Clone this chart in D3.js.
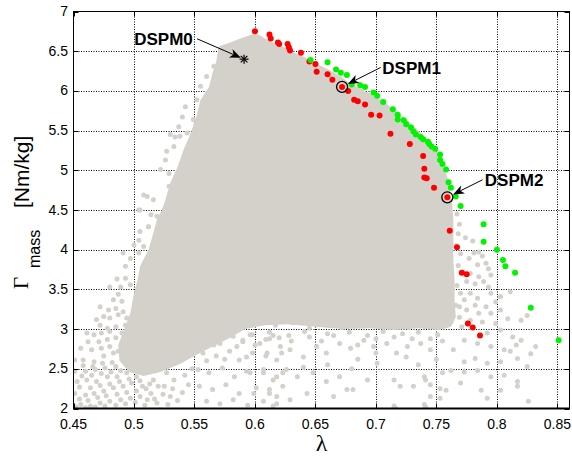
<!DOCTYPE html>
<html>
<head>
<meta charset="utf-8">
<script src="https://cdn.jsdelivr.net/npm/d3@7"></script>
<style>
  body { margin: 0; background: #fff; }
  svg { display: block; }
</style>
</head>
<body>
<svg id="chart" width="572" height="459"></svg>
<script>
// ---- axis ticks ----
const xTicks = [0.45, 0.5, 0.55, 0.6, 0.65, 0.7, 0.75, 0.8, 0.85];
const xTickLabels = ["0.45", "0.5", "0.55", "0.6", "0.65", "0.7", "0.75", "0.8", "0.85"];
const yTicks = [2, 2.5, 3, 3.5, 4, 4.5, 5, 5.5, 6, 6.5, 7];
const yTickLabels = ["2", "2.5", "3", "3.5", "4", "4.5", "5", "5.5", "6", "6.5", "7"];

// ---- dense part of the design cloud (outline, lambda / Gamma) ----
const cloudCore = [
  [0.570, 6.56], [0.576, 6.59], [0.581, 6.62], [0.588, 6.66], [0.594, 6.69], [0.599, 6.72],
  [0.603, 6.71], [0.608, 6.66], [0.615, 6.61], [0.623, 6.56], [0.631, 6.49], [0.639, 6.44],
  [0.647, 6.38], [0.654, 6.32], [0.663, 6.25], [0.671, 6.18], [0.679, 6.09], [0.687, 6.03],
  [0.696, 5.96], [0.704, 5.89], [0.712, 5.80], [0.720, 5.70], [0.729, 5.59], [0.737, 5.47],
  [0.745, 5.33], [0.751, 5.21], [0.755, 5.07], [0.759, 4.92], [0.761, 4.75], [0.763, 4.57],
  [0.764, 4.38], [0.764, 4.13], [0.764, 3.87], [0.765, 3.62], [0.765, 3.37], [0.766, 3.15],
  [0.762, 3.03], [0.752, 2.99], [0.735, 3.01], [0.715, 2.99], [0.695, 3.01], [0.672, 3.00],
  [0.650, 3.03], [0.628, 3.06], [0.608, 3.05], [0.592, 3.00], [0.578, 2.88], [0.565, 2.78],
  [0.552, 2.68], [0.538, 2.56], [0.522, 2.46], [0.508, 2.41], [0.496, 2.46], [0.488, 2.60],
  [0.487, 2.80], [0.492, 3.00], [0.497, 3.20], [0.500, 3.45], [0.503, 3.62], [0.505, 3.79],
  [0.512, 4.00], [0.516, 4.21], [0.519, 4.38], [0.523, 4.50], [0.526, 4.63], [0.530, 4.84],
  [0.536, 5.04], [0.541, 5.26], [0.547, 5.47], [0.552, 5.70], [0.555, 5.89], [0.562, 6.05],
  [0.565, 6.23], [0.568, 6.37]
];

// ---- loose designs around the dense part ----
const upperLeftDesigns = [
  [0.5425, 5.80], [0.540, 5.67], [0.549, 5.64], [0.537, 5.55], [0.530, 5.45], [0.538, 5.43],
  [0.533, 5.30], [0.527, 5.24], [0.526, 5.13], [0.522, 5.01], [0.529, 4.96], [0.529, 4.80],
  [0.508, 4.69], [0.511, 4.67], [0.516, 4.63], [0.504, 4.50], [0.519, 4.42], [0.512, 4.29],
  [0.555, 6.06], [0.552, 5.89], [0.560, 6.18], [0.566, 6.31], [0.544, 5.47], [0.566, 6.14],
  [0.558, 5.78], [0.534, 5.42]
];
const lowerLeftDesigns = [
  [0.505, 4.50], [0.514, 4.44], [0.512, 4.29], [0.505, 4.23], [0.504, 4.12], [0.500, 4.06],
  [0.508, 4.04], [0.491, 3.96], [0.504, 3.96], [0.497, 3.89], [0.493, 3.79], [0.493, 3.64],
  [0.486, 3.63], [0.497, 3.56], [0.489, 3.53], [0.480, 3.53], [0.487, 3.44], [0.483, 3.37],
  [0.490, 3.35], [0.479, 3.24], [0.472, 3.28], [0.485, 3.26], [0.491, 3.22], [0.475, 3.16],
  [0.469, 3.12], [0.480, 3.14], [0.487, 3.18], [0.494, 3.14], [0.472, 3.05], [0.478, 3.01],
  [0.485, 3.03], [0.493, 3.05], [0.461, 2.95], [0.467, 2.93], [0.473, 2.95], [0.480, 2.97],
  [0.490, 2.95], [0.497, 2.91], [0.462, 2.84], [0.471, 2.84], [0.478, 2.87], [0.485, 2.89],
  [0.493, 2.82], [0.456, 2.76], [0.465, 2.74], [0.473, 2.76], [0.480, 2.78], [0.487, 2.72],
  [0.496, 2.74], [0.451, 2.61], [0.458, 2.61], [0.467, 2.59], [0.475, 2.66], [0.483, 2.70],
  [0.491, 2.64], [0.498, 2.66], [0.451, 2.47], [0.460, 2.47], [0.468, 2.49], [0.476, 2.51],
  [0.485, 2.53], [0.493, 2.57], [0.501, 2.55], [0.453, 2.34], [0.461, 2.36], [0.469, 2.34],
  [0.478, 2.40], [0.486, 2.40], [0.494, 2.45], [0.502, 2.40], [0.451, 2.19], [0.460, 2.17],
  [0.467, 2.19], [0.475, 2.22], [0.483, 2.26], [0.491, 2.28], [0.498, 2.32], [0.507, 2.28],
  [0.456, 2.05], [0.464, 2.03], [0.472, 2.07], [0.480, 2.09], [0.489, 2.11], [0.497, 2.13],
  [0.505, 2.15], [0.514, 2.19], [0.511, 2.11], [0.519, 2.07], [0.508, 2.45], [0.516, 2.36],
  [0.522, 2.53], [0.512, 2.66], [0.505, 2.74], [0.525, 2.28], [0.530, 2.15], [0.527, 2.45],
  [0.536, 2.61], [0.533, 2.36], [0.545, 2.78], [0.548, 2.86], [0.562, 2.92], [0.576, 3.02],
  [0.566, 2.80], [0.552, 2.72], [0.538, 2.70], [0.583, 3.12],
  [0.455, 2.12], [0.462, 2.10], [0.470, 2.14], [0.477, 2.16], [0.486, 2.18], [0.494, 2.20],
  [0.502, 2.22], [0.510, 2.25], [0.455, 2.27], [0.464, 2.26], [0.472, 2.29], [0.480, 2.31],
  [0.488, 2.34], [0.496, 2.37], [0.505, 2.35], [0.513, 2.31], [0.520, 2.28], [0.457, 2.41],
  [0.465, 2.42], [0.473, 2.44], [0.481, 2.46], [0.489, 2.48], [0.458, 2.54], [0.466, 2.53],
  [0.474, 2.57], [0.482, 2.58], [0.452, 2.02], [0.460, 2.01], [0.468, 2.02], [0.476, 2.03],
  [0.485, 2.04], [0.493, 2.06], [0.501, 2.08], [0.509, 2.04], [0.517, 2.12], [0.524, 2.18],
  [0.532, 2.25], [0.528, 2.05], [0.536, 2.10], [0.540, 2.20], [0.545, 2.30], [0.542, 2.42],
  [0.548, 2.50]
];
const lowerMiddleDesigns = [
  [0.554, 2.93], [0.561, 2.87], [0.571, 2.82], [0.582, 2.91], [0.590, 2.84], [0.598, 2.93],
  [0.609, 2.87], [0.620, 2.89], [0.557, 2.70], [0.568, 2.66], [0.579, 2.72], [0.587, 2.61],
  [0.598, 2.70], [0.609, 2.66], [0.622, 2.70], [0.553, 2.49], [0.562, 2.45], [0.573, 2.51],
  [0.583, 2.40], [0.593, 2.47], [0.607, 2.45], [0.618, 2.40], [0.626, 2.49], [0.554, 2.28],
  [0.565, 2.24], [0.576, 2.30], [0.587, 2.19], [0.601, 2.26], [0.612, 2.19], [0.623, 2.28],
  [0.560, 2.09], [0.571, 2.06], [0.582, 2.11], [0.594, 2.04], [0.607, 2.09], [0.618, 2.06],
  [0.590, 2.86], [0.604, 2.82], [0.612, 2.88], [0.621, 2.78], [0.593, 2.65], [0.610, 2.70],
  [0.618, 2.61], [0.629, 2.74], [0.640, 2.65], [0.651, 2.78], [0.659, 2.70], [0.670, 2.82],
  [0.679, 2.76], [0.690, 2.86], [0.698, 2.78], [0.709, 2.82], [0.717, 2.70], [0.726, 2.78],
  [0.737, 2.82], [0.745, 2.74], [0.596, 2.45], [0.607, 2.49], [0.615, 2.36], [0.623, 2.45],
  [0.635, 2.40], [0.648, 2.45], [0.659, 2.34], [0.670, 2.40], [0.681, 2.24], [0.693, 2.36],
  [0.701, 2.57], [0.715, 2.36], [0.720, 2.28], [0.731, 2.28], [0.740, 2.40], [0.599, 2.19],
  [0.612, 2.24], [0.618, 2.15], [0.629, 2.11], [0.643, 2.19], [0.665, 2.15], [0.676, 2.24],
  [0.715, 2.03], [0.740, 2.05], [0.615, 2.03], [0.716, 2.01],
  [0.560, 2.60], [0.575, 2.62], [0.585, 2.78], [0.600, 2.80], [0.615, 2.92], [0.630, 2.85],
  [0.645, 2.90], [0.655, 2.85], [0.665, 2.92], [0.685, 2.80], [0.700, 2.88], [0.715, 2.90],
  [0.730, 2.88], [0.745, 2.88], [0.755, 2.85], [0.700, 2.70], [0.725, 2.65], [0.685, 2.62],
  [0.660, 2.55], [0.640, 2.52], [0.680, 2.50], [0.735, 2.55], [0.750, 2.62], [0.755, 2.45],
  [0.745, 2.30]
];
const bandDesigns = [
  [0.574, 3.08], [0.589, 3.03], [0.603, 3.10], [0.617, 3.05], [0.631, 3.08], [0.645, 3.01],
  [0.657, 3.06], [0.672, 3.02], [0.686, 3.09], [0.700, 3.04], [0.712, 3.07], [0.727, 3.02],
  [0.740, 3.06], [0.753, 3.03], [0.762, 3.09], [0.581, 2.97], [0.596, 2.93], [0.612, 2.96],
  [0.628, 2.92], [0.641, 2.97], [0.660, 2.94], [0.678, 2.96], [0.693, 2.92], [0.706, 2.97],
  [0.722, 2.94], [0.735, 2.96], [0.751, 2.93]
];
const rightDesigns = [
  [0.769, 4.32], [0.774, 4.15], [0.780, 4.11], [0.781, 3.96], [0.785, 3.97], [0.788, 3.92],
  [0.777, 3.89], [0.791, 3.83], [0.784, 3.81], [0.793, 3.76], [0.778, 3.70], [0.785, 3.66],
  [0.795, 3.68], [0.775, 3.60], [0.782, 3.57], [0.789, 3.60], [0.793, 3.53], [0.778, 3.45],
  [0.784, 3.39], [0.795, 3.45], [0.803, 3.41], [0.811, 3.47], [0.773, 3.37], [0.782, 3.30],
  [0.791, 3.28], [0.799, 3.34], [0.769, 3.28], [0.775, 3.24], [0.785, 3.20], [0.795, 3.20],
  [0.803, 3.24], [0.820, 3.11], [0.825, 3.17], [0.778, 3.11], [0.788, 3.09], [0.799, 3.07],
  [0.809, 3.13], [0.771, 3.03], [0.792, 2.95], [0.803, 2.99], [0.813, 2.90], [0.816, 2.80],
  [0.820, 2.86], [0.832, 2.78], [0.773, 2.86], [0.784, 2.82], [0.795, 2.78], [0.806, 2.74],
  [0.811, 2.72], [0.828, 2.69], [0.764, 2.74], [0.773, 2.59], [0.782, 2.63], [0.792, 2.57],
  [0.803, 2.59], [0.817, 2.63], [0.825, 2.53], [0.762, 2.48], [0.773, 2.46], [0.784, 2.48],
  [0.795, 2.40], [0.806, 2.42], [0.817, 2.34], [0.741, 2.36], [0.753, 2.25], [0.770, 2.32],
  [0.787, 2.23], [0.792, 2.13], [0.803, 2.23], [0.817, 2.28], [0.745, 2.15], [0.758, 2.23],
  [0.741, 2.02], [0.753, 2.13], [0.826, 2.09], [0.767, 4.45], [0.768, 4.20], [0.766, 4.05],
  [0.770, 3.95], [0.768, 3.80], [0.772, 3.72], [0.767, 3.55], [0.770, 3.45], [0.766, 3.30],
  [0.769, 3.15]
];

// ---- Pareto sets ----
const redFront = [
  [0.600, 6.75], [0.612, 6.71], [0.613, 6.66], [0.619, 6.61], [0.620, 6.59], [0.627, 6.59],
  [0.628, 6.55], [0.629, 6.51], [0.638, 6.48], [0.645, 6.37], [0.650, 6.34], [0.651, 6.24],
  [0.660, 6.21], [0.664, 6.14], [0.672, 6.05], [0.677, 6.00], [0.682, 5.89], [0.685, 5.87],
  [0.691, 5.83], [0.696, 5.70], [0.703, 5.69], [0.712, 5.46], [0.728, 5.33], [0.739, 5.18],
  [0.740, 5.02], [0.740, 4.91], [0.742, 4.90], [0.748, 4.78], [0.759, 4.66], [0.761, 4.24],
  [0.767, 4.03], [0.771, 3.71], [0.775, 3.69], [0.776, 3.07], [0.780, 3.02], [0.786, 2.92]
];
const greenFront = [
  [0.646, 6.39], [0.660, 6.36], [0.667, 6.27], [0.671, 6.23], [0.676, 6.20], [0.680, 6.08],
  [0.687, 6.07], [0.691, 6.05], [0.698, 5.98], [0.701, 5.94], [0.706, 5.86], [0.714, 5.77],
  [0.718, 5.70], [0.718, 5.64], [0.723, 5.63], [0.725, 5.58], [0.729, 5.54], [0.731, 5.49],
  [0.733, 5.45], [0.737, 5.42], [0.739, 5.39], [0.743, 5.36], [0.744, 5.33], [0.746, 5.30],
  [0.749, 5.27], [0.753, 5.20], [0.753, 5.13], [0.755, 5.08], [0.758, 5.01], [0.760, 4.85],
  [0.762, 4.78], [0.766, 4.67], [0.770, 4.55], [0.789, 4.32], [0.789, 4.10], [0.800, 4.00],
  [0.805, 3.87], [0.807, 3.79], [0.815, 3.71], [0.828, 3.27], [0.851, 2.86]
];

// ---- selected designs and their callouts ----
const selectedNames = ["DSPM0", "DSPM1", "DSPM2"];
const selectedLambda = [0.591, 0.672, 0.759];
const selectedGamma = [6.40, 6.05, 4.66];
const selectedMarker = ["star", "circle", "circle"];
const calloutLambda = [0.5002, 0.7053, 0.7900];   // label start
const calloutGamma = [6.58, 6.215, 4.805];         // label baseline
const arrowTailLambda = [0.5522, 0.7039, 0.7881];
const arrowTailGamma = [6.656, 6.295, 4.880];

// ---- layout ----
const W = 572, H = 459;
const mLeft = 73.5, mRight = 569.5, mTop = 11.5, mBottom = 408.5;
const cloudGray = "#d4d0ca";

const svg = d3.select("#chart");
svg.append("rect").attr("width", W).attr("height", H).attr("fill", "#fff");

const x = d3.scaleLinear().domain([0.45, 0.86]).range([mLeft, mRight]);
const y = d3.scaleLinear().domain([2, 7]).range([mBottom, mTop]);

const plot = svg.append("g");
plot.append("clipPath").attr("id", "plotClip")
  .append("rect").attr("x", mLeft).attr("y", mTop)
  .attr("width", mRight - mLeft).attr("height", mBottom - mTop);

// dotted grid
const grid = plot.append("g").attr("stroke", "#000").attr("stroke-width", 1)
  .attr("stroke-dasharray", "1,1.5").attr("fill", "none");
grid.selectAll("line.gx").data(xTicks.slice(1)).join("line").attr("class", "gx")
  .attr("x1", d => Math.round(x(d)) + 0.5).attr("x2", d => Math.round(x(d)) + 0.5)
  .attr("y1", mTop).attr("y2", mBottom);
grid.selectAll("line.gy").data(yTicks.slice(1, -1)).join("line").attr("class", "gy")
  .attr("y1", d => Math.round(y(d)) + 0.5).attr("y2", d => Math.round(y(d)) + 0.5)
  .attr("x1", mLeft).attr("x2", mRight);

// design cloud
const marks = plot.append("g").attr("clip-path", "url(#plotClip)");
marks.append("path")
  .datum(cloudCore)
  .attr("d", d3.line().x(d => x(d[0])).y(d => y(d[1])).curve(d3.curveLinearClosed))
  .attr("fill", cloudGray);

const looseDesigns = [].concat(upperLeftDesigns, lowerLeftDesigns, lowerMiddleDesigns,
  bandDesigns, rightDesigns);
marks.selectAll("circle.cloud").data(looseDesigns).join("circle").attr("class", "cloud")
  .attr("cx", d => x(d[0])).attr("cy", d => y(d[1])).attr("r", 2.5).attr("fill", cloudGray);

// Pareto fronts
marks.selectAll("circle.red").data(redFront).join("circle").attr("class", "red")
  .attr("cx", d => x(d[0])).attr("cy", d => y(d[1])).attr("r", 3).attr("fill", "#ff0000");
marks.selectAll("circle.green").data(greenFront).join("circle").attr("class", "green")
  .attr("cx", d => x(d[0])).attr("cy", d => y(d[1])).attr("r", 3).attr("fill", "#00f400");

// frame
plot.append("rect").attr("x", mLeft).attr("y", mTop)
  .attr("width", mRight - mLeft).attr("height", mBottom - mTop)
  .attr("fill", "none").attr("stroke", "#000").attr("stroke-width", 1);
plot.append("line").attr("x1", mLeft).attr("x2", mRight).attr("y1", mBottom).attr("y2", mBottom)
  .attr("stroke", "#000").attr("stroke-width", 2);

// inward ticks on all four sides
const tk = 5;
const ticks = plot.append("g").attr("stroke", "#000").attr("stroke-width", 1);
xTicks.forEach(v => {
  const px = Math.round(x(v)) + 0.5;
  ticks.append("line").attr("x1", px).attr("x2", px).attr("y1", mBottom).attr("y2", mBottom - tk);
  ticks.append("line").attr("x1", px).attr("x2", px).attr("y1", mTop).attr("y2", mTop + tk);
});
yTicks.forEach(v => {
  const py = Math.round(y(v)) + 0.5;
  ticks.append("line").attr("y1", py).attr("y2", py).attr("x1", mLeft).attr("x2", mLeft + tk);
  ticks.append("line").attr("y1", py).attr("y2", py).attr("x1", mRight).attr("x2", mRight - tk);
});

// tick labels
const tickFont = "Liberation Sans, Arial, sans-serif";
svg.append("g").selectAll("text").data(xTicks).join("text")
  .attr("x", d => x(d)).attr("y", 429)
  .attr("text-anchor", "middle").attr("font-family", tickFont).attr("font-size", 14)
  .text((d, i) => xTickLabels[i]);
svg.append("g").selectAll("text").data(yTicks).join("text")
  .attr("x", 68).attr("y", d => y(d) + 4.5)
  .attr("text-anchor", "end").attr("font-family", tickFont).attr("font-size", 14)
  .text((d, i) => yTickLabels[i]);

// axis titles
svg.append("text").attr("x", (mLeft + mRight) / 2).attr("y", 451)
  .attr("text-anchor", "middle").attr("font-family", "Liberation Serif, serif")
  .attr("font-size", 24).text("λ");
svg.append("text").attr("transform", "translate(28,289) rotate(-90)")
  .attr("font-family", "Liberation Serif, serif").attr("font-size", 21).text("Γ");
svg.append("text").attr("transform", "translate(40,268) rotate(-90)")
  .attr("font-family", tickFont).attr("font-size", 16).text("mass");
svg.append("text").attr("transform", "translate(29,208) rotate(-90)")
  .attr("font-family", tickFont).attr("font-size", 21).text("[Nm/kg]");

// selected designs with callouts
const ann = svg.append("g");
selectedNames.forEach((name, i) => {
  const px = x(selectedLambda[i]), py = y(selectedGamma[i]);
  if (selectedMarker[i] === "star") {
    const s = 4.5, sd = 3.3;
    const star = ann.append("g").attr("stroke", "#000").attr("stroke-width", 1.2);
    star.append("line").attr("x1", px - s).attr("x2", px + s).attr("y1", py).attr("y2", py);
    star.append("line").attr("x1", px).attr("x2", px).attr("y1", py - s).attr("y2", py + s);
    star.append("line").attr("x1", px - sd).attr("x2", px + sd).attr("y1", py - sd).attr("y2", py + sd);
    star.append("line").attr("x1", px - sd).attr("x2", px + sd).attr("y1", py + sd).attr("y2", py - sd);
  } else {
    ann.append("circle").attr("cx", px).attr("cy", py).attr("r", 5.5)
      .attr("fill", "none").attr("stroke", "#000").attr("stroke-width", 1.3);
  }
  // arrow from label to design
  const tx = x(arrowTailLambda[i]), ty = y(arrowTailGamma[i]);
  const dx = tx - px, dy = ty - py, len = Math.hypot(dx, dy);
  const ux = dx / len, uy = dy / len;
  const gap = selectedMarker[i] === "star" ? 3.5 : 6.5;
  const hx = px + ux * gap, hy = py + uy * gap;     // arrow tip
  const hl = 11, hw = 4.5, notch = 3;
  const bx = hx + ux * hl, by = hy + uy * hl;
  const nx = -uy, ny = ux;
  ann.append("line").attr("x1", tx).attr("y1", ty).attr("x2", bx - ux * notch).attr("y2", by - uy * notch)
    .attr("stroke", "#000").attr("stroke-width", 1);
  ann.append("path")
    .attr("d", `M${hx},${hy} L${bx + nx * hw},${by + ny * hw} L${bx - ux * notch},${by - uy * notch} L${bx - nx * hw},${by - ny * hw} Z`)
    .attr("fill", "#000");
  ann.append("text").attr("x", x(calloutLambda[i])).attr("y", y(calloutGamma[i]))
    .attr("font-family", tickFont).attr("font-weight", "bold").attr("font-size", 17)
    .text(name);
});
</script>
</body>
</html>
